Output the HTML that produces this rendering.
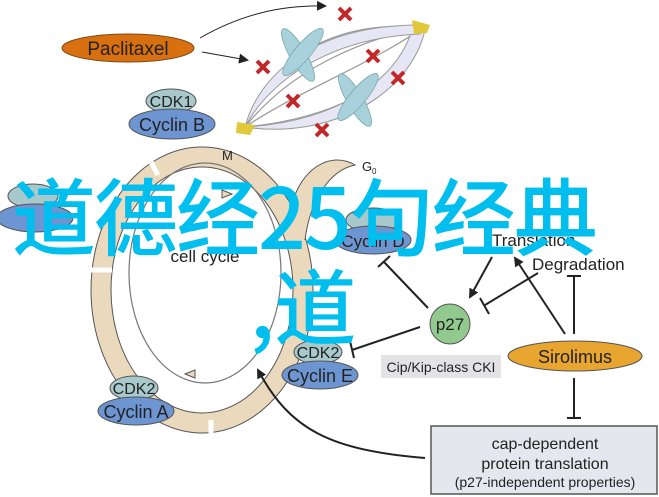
<!DOCTYPE html>
<html><head><style>
body{margin:0;width:659px;height:497px;background:#fff;overflow:hidden;position:relative;font-family:"Liberation Sans",sans-serif}
svg{position:absolute;left:0;top:0}
.ov{position:absolute;color:#00bfef;font-family:"Noto Sans CJK SC","WenQuanYi Zen Hei",sans-serif;font-weight:500;white-space:nowrap;line-height:1}
</style></head><body>
<svg width="659" height="497" viewBox="0 0 659 497" font-family="Liberation Sans, sans-serif">
<defs><marker id="ah" markerWidth="10" markerHeight="10" refX="8" refY="5" orient="auto" markerUnits="userSpaceOnUse"><path d="M0,0 L10,5 L0,10 z" fill="#222"/></marker></defs>
<g stroke="#999" fill="none" stroke-width="1.2">
<path d="M245,127 C270,60 330,20 423,27"/><path d="M245,127 C290,70 360,40 423,27"/>
<path d="M245,127 C320,120 400,90 423,27"/><path d="M245,127 C340,140 420,80 423,27"/>
<path d="M245,127 C300,90 380,60 423,27"/>
</g>
<path d="M245,127 C330,140 410,95 425,30 L412,30 C395,85 330,122 245,127z" fill="#e6e6f4" stroke="#999"/>
<path d="M245,127 C260,70 320,25 420,25 L420,34 C330,38 270,80 245,127z" fill="#e6e6f4" stroke="#999"/>
<g fill="#a9d1dc" stroke="#7aa" stroke-width="0.8">
<ellipse cx="298" cy="55" rx="8" ry="30" transform="rotate(-30 298 55)"/>
<ellipse cx="303" cy="52" rx="8" ry="30" transform="rotate(40 303 52)"/>
<ellipse cx="355" cy="100" rx="8" ry="30" transform="rotate(-30 355 100)"/>
<ellipse cx="358" cy="97" rx="8" ry="30" transform="rotate(40 358 97)"/>
</g>
<path d="M237,122 L255,125 L250,135 L236,133z" fill="#e0c83a"/>
<path d="M412,20 L430,25 L427,33 L414,34z" fill="#e0c83a"/>
<g stroke="#c0282a" stroke-width="4">
<path d="M339,8l12,12M351,8l-12,12"/><path d="M257,61l12,12M269,61l-12,12"/><path d="M367,50l12,12M379,50l-12,12"/>
<path d="M392,72l12,12M404,72l-12,12"/><path d="M287,95l12,12M299,95l-12,12"/><path d="M316,124l12,12M328,124l-12,12"/>
</g>
<path d="M200,38 C240,15 280,5 325,6" stroke="#222" fill="none" marker-end="url(#ah)"/>
<path d="M202,52 L247,60" stroke="#222" fill="none" marker-end="url(#ah)"/>
<ellipse cx="128" cy="48" rx="66" ry="14" fill="#d9700f" stroke="#7a4a1a"/>
<text x="128" y="55" font-size="19" text-anchor="middle" fill="#222">Paclitaxel</text>
<ellipse cx="171" cy="101" rx="25" ry="12" fill="#a8c9cc" stroke="#555"/>
<text x="171" y="107" font-size="16" text-anchor="middle" fill="#222">CDK1</text>
<ellipse cx="172" cy="124" rx="43" ry="15" fill="#6d95d2" stroke="#555"/>
<text x="172" y="131" font-size="18" text-anchor="middle" fill="#222">Cyclin B</text>
<ellipse cx="202" cy="290" rx="101" ry="133" fill="none" stroke="#ead9bd" stroke-width="20"/>
<ellipse cx="202" cy="290" rx="111" ry="143" fill="none" stroke="#555" stroke-width="1"/>
<ellipse cx="202" cy="290" rx="91" ry="123" fill="none" stroke="#555" stroke-width="1"/>
<ellipse cx="205" cy="273" rx="76" ry="110" fill="none" stroke="#777" stroke-width="1.2"/>
<path d="M292,205 C300,170 330,150 355,165 C330,170 310,200 305,240" fill="#ead9bd" stroke="#555"/>
<g stroke="#fff" stroke-width="5"><path d="M150,160 L158,175"/><path d="M282,185 L294,180"/><path d="M88,270 L112,270"/><path d="M211,420 L211,440"/></g>
<text x="222" y="160" font-size="13" fill="#222">M</text>
<text x="362" y="171" font-size="13" fill="#222">G</text><text x="372" y="174" font-size="8" fill="#222">0</text>
<text x="137" y="425" font-size="12" fill="#222">S</text>
<text x="205" y="262" font-size="17" text-anchor="middle" fill="#222">cell cycle</text>
<path d="M222,190 l10,4 l-10,4z" fill="#ead9bd" stroke="#555"/>
<path d="M185,374 l10,-4 l0,8z" fill="#ead9bd" stroke="#555"/>
<ellipse cx="33" cy="196" rx="25" ry="12" fill="#a8c9cc" stroke="#555"/>
<ellipse cx="35" cy="218" rx="38" ry="14" fill="#6d95d2" stroke="#555"/>
<ellipse cx="373" cy="220" rx="27" ry="12" fill="#a8c9cc" stroke="#555"/>
<ellipse cx="373" cy="240" rx="38" ry="14" fill="#6d95d2" stroke="#555"/>
<text x="373" y="247" font-size="17" text-anchor="middle" fill="#222">Cyclin D</text>
<g stroke="#222" stroke-width="2" fill="none">
<path d="M428,308 L384,262"/><path d="M378,267 L390,256"/>
<path d="M492,257 L470,297" marker-end="url(#ah)"/>
<path d="M538,273 L485,305"/><path d="M480,298 L489,314"/>
<path d="M565,334 L515,258" marker-end="url(#ah)"/>
<path d="M574,334 L574,276"/><path d="M567,276 L581,276"/>
<path d="M420,327 L352,350"/><path d="M350,341 L354,358"/>
<path d="M574,378 L574,418"/><path d="M567,418 L581,418"/>
<path d="M425,458 C330,450 290,430 258,370" marker-end="url(#ah)"/>
</g>
<circle cx="450" cy="324" r="20" fill="#92c98f" stroke="#555"/>
<text x="450" y="330" font-size="17" text-anchor="middle" fill="#222">p27</text>
<text x="492" y="246" font-size="17" fill="#222">Translation</text>
<text x="532" y="270" font-size="17" fill="#222">Degradation</text>
<rect x="381" y="355" width="120" height="23" fill="#e3e3e6"/>
<text x="441" y="372" font-size="14" text-anchor="middle" fill="#222">Cip/Kip-class CKI</text>
<ellipse cx="575" cy="356" rx="67" ry="15" fill="#e8a530" stroke="#555"/>
<text x="575" y="363" font-size="18" text-anchor="middle" fill="#222">Sirolimus</text>
<ellipse cx="318" cy="352" rx="24" ry="12" fill="#a8c9cc" stroke="#555"/>
<text x="318" y="358" font-size="16" text-anchor="middle" fill="#222">CDK2</text>
<ellipse cx="320" cy="375" rx="38" ry="14" fill="#6d95d2" stroke="#555"/>
<text x="320" y="382" font-size="18" text-anchor="middle" fill="#222">Cyclin E</text>
<ellipse cx="134" cy="388" rx="24" ry="12" fill="#a8c9cc" stroke="#555"/>
<text x="134" y="394" font-size="16" text-anchor="middle" fill="#222">CDK2</text>
<ellipse cx="136" cy="411" rx="38" ry="14" fill="#6d95d2" stroke="#555"/>
<text x="136" y="418" font-size="18" text-anchor="middle" fill="#222">Cyclin A</text>
<rect x="431" y="426" width="226" height="68" fill="#e6e6ee" stroke="#555" stroke-width="1.5"/>
<text x="545" y="449" font-size="16" text-anchor="middle" fill="#222">cap-dependent</text>
<text x="545" y="469" font-size="16" text-anchor="middle" fill="#222">protein translation</text>
<text x="545" y="487" font-size="14" text-anchor="middle" fill="#222">(p27-independent properties)</text>
</svg>
<div class="ov" style="left:12px;top:172px;font-size:84px;letter-spacing:-2px">道德经25句经典</div>
<div class="ov" style="left:250px;top:262px;font-size:82px">,道</div>
</body></html>
